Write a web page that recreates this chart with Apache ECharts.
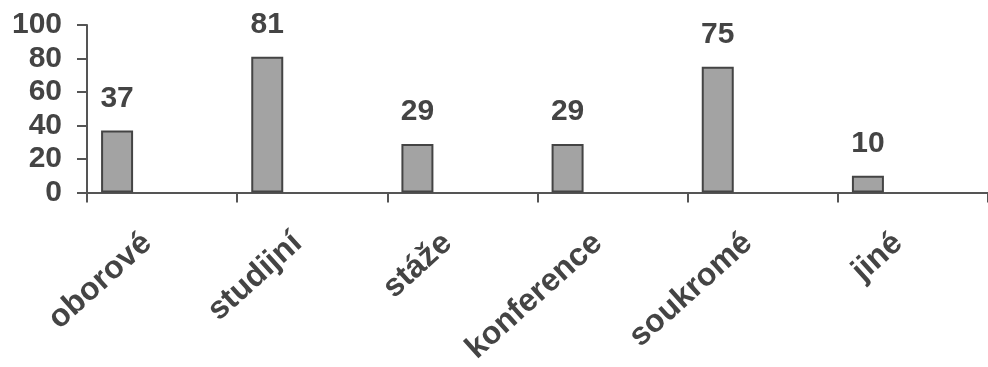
<!DOCTYPE html>
<html><head><meta charset="utf-8">
<script src="https://cdn.jsdelivr.net/npm/echarts@6/dist/echarts.min.js"></script>
<style>html,body{margin:0;padding:0;background:#fff}#c{width:988px;height:367px}</style>
</head><body><div id="c"></div>
<script>
var categories = ['oborové','studijní','stáže','konference','soukromé','jiné'];
var values = [37, 81, 29, 29, 75, 10];
var yTicks = [0, 20, 40, 60, 80, 100];
var blank = categories.map(function(){return '-';});
var chart = echarts.init(document.getElementById('c'));
var txt = '#444';
var font = '"Liberation Sans", Arial, sans-serif';
chart.setOption({
  animation: false,
  grid: {left: 87, right: -10, top: 25, bottom: 173, containLabel: false},
  xAxis: {
    type: 'category', data: categories,
    axisLine: {lineStyle: {color: '#555', width: 2}},
    axisTick: {show: true, length: 10, lineStyle: {color: '#555', width: 2}},
    axisLabel: {rotate: 42, margin: 33, padding: [0, 20, 0, 0], color: txt, fontSize: 32, fontWeight: 'bold', fontFamily: font, interval: 0}
  },
  yAxis: {
    type: 'value', min: yTicks[0], max: yTicks[yTicks.length-1], interval: 20,
    splitLine: {show: false},
    axisLine: {show: true, lineStyle: {color: '#555', width: 2}},
    axisTick: {show: true, length: 10, lineStyle: {color: '#555', width: 2}},
    axisLabel: {margin: 25, color: txt, fontSize: 30, fontWeight: 'bold', fontFamily: font}
  },
  series: [
    {type: 'bar', data: values, barWidth: 32, barGap: '0%',
     itemStyle: {color: '#a3a3a3', borderColor: '#444', borderWidth: 2},
     label: {show: true, position: 'top', distance: 17, color: txt, fontSize: 30, fontWeight: 'bold', fontFamily: font}},
    {type: 'bar', data: blank, barWidth: 30, barGap: '0%'},
    {type: 'bar', data: blank, barWidth: 30, barGap: '0%'},
    {type: 'bar', data: blank, barWidth: 30, barGap: '0%'}
  ]
});
</script></body></html>
